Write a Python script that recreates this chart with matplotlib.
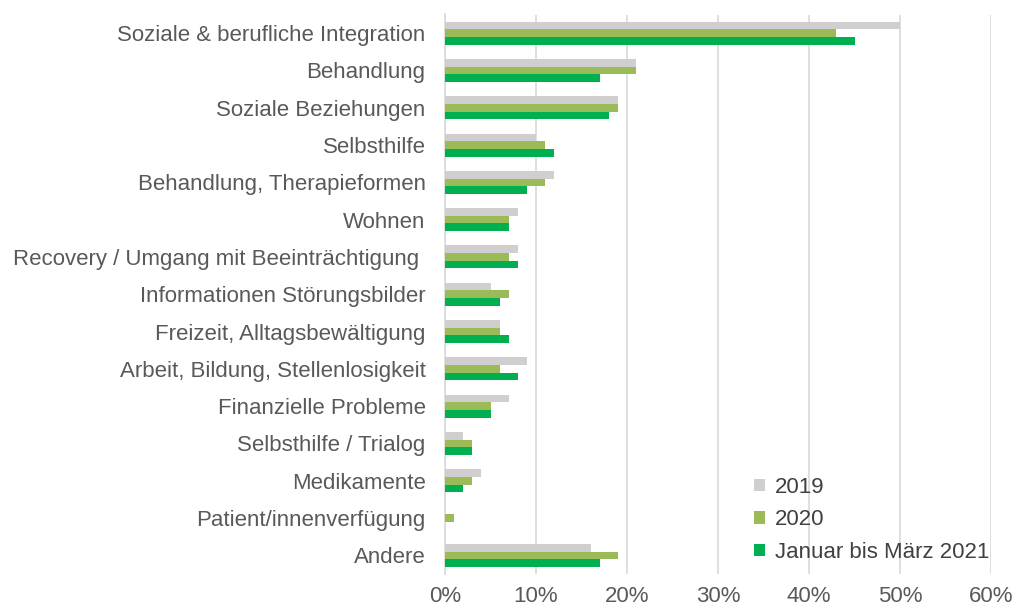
import numpy as np
import matplotlib
matplotlib.use("Agg")
import matplotlib.pyplot as plt
from matplotlib.ticker import PercentFormatter

categories = ['Soziale & berufliche Integration', 'Behandlung', 'Soziale Beziehungen',
              'Selbsthilfe', 'Behandlung, Therapieformen', 'Wohnen',
              'Recovery / Umgang mit Beeinträchtigung ', 'Informationen Störungsbilder',
              'Freizeit, Alltagsbewältigung', 'Arbeit, Bildung, Stellenlosigkeit',
              'Finanzielle Probleme', 'Selbsthilfe / Trialog', 'Medikamente',
              'Patient/innenverfügung', 'Andere']
vals_2019 = [50, 21, 19, 10, 12, 8, 8, 5, 6, 9, 7, 2, 4, 0, 16]
vals_2020 = [43, 21, 19, 11, 11, 7, 7, 7, 6, 6, 5, 3, 3, 1, 19]
vals_2021 = [45, 17, 18, 12, 9, 7, 8, 6, 7, 8, 5, 3, 2, 0, 17]
series_names = ['2019', '2020', 'Januar bis März 2021']
colors = ['#D0CECE', '#9BBB59', '#00B050']

plt.rcParams['font.family'] = ['Liberation Sans', 'DejaVu Sans']

fig = plt.figure(figsize=(10.13, 6.08), dpi=100)
ax = fig.add_axes([445 / 1013, 1 - 574 / 608, 546 / 1013, 559.5 / 608])

y = np.arange(len(categories))
h = 0.205
for i, (vals, name, c) in enumerate(zip([vals_2019, vals_2020, vals_2021], series_names, colors)):
    ax.barh(y + (i - 1) * h, np.array(vals) / 100, height=h, color=c, label=name, zorder=3)

ax.set_ylim(len(categories) - 0.5, -0.5)
ax.set_xlim(0, 0.6)
ax.set_xticks(np.arange(0, 0.61, 0.1))
ax.xaxis.set_major_formatter(PercentFormatter(1.0, decimals=0))
ax.set_yticks(y)
ax.set_yticklabels(categories)
ax.grid(axis='x', color='#D9D9D9', linewidth=1.2, zorder=0)
for s in ['top', 'right', 'bottom']:
    ax.spines[s].set_visible(False)
ax.spines['left'].set_color('#D9D9D9')
ax.spines['left'].set_linewidth(1.2)
ax.tick_params(axis='both', length=0, labelsize=16, labelcolor='#595959')
ax.tick_params(axis='y', pad=14)
ax.tick_params(axis='x', pad=9)

ax.legend(loc='lower left', bbox_to_anchor=(734 / 1013, 1 - 583 / 608),
          bbox_transform=fig.transFigure, frameon=False, fontsize=16,
          handlelength=0.5, handleheight=0.5, handletextpad=0.45,
          labelspacing=0.52, labelcolor='#404040')

fig.savefig('out.png', dpi=100)
